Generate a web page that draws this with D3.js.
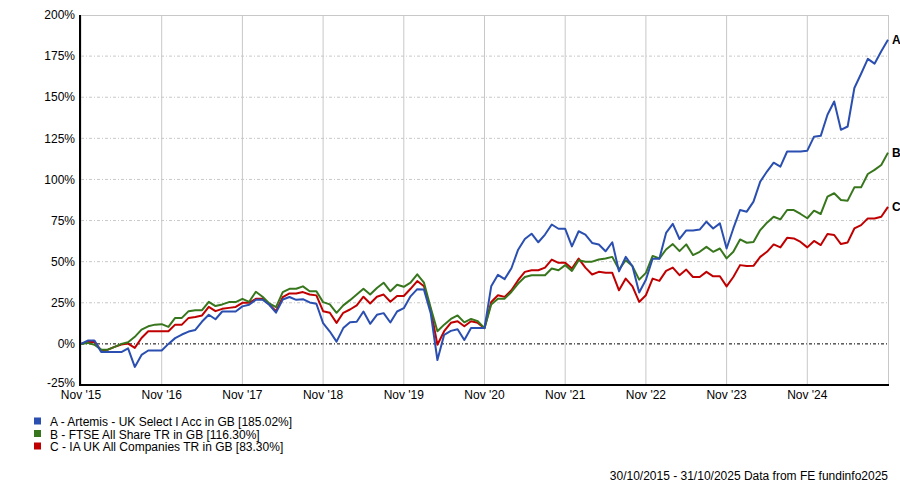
<!DOCTYPE html>
<html lang="en">
<head>
    <title>Artemis UK Select vs FTSE All Share vs IA UK All Companies</title>
    <meta charset="utf-8">
    <style>
        body { margin: 0; background: white; }
        svg { display: block; }
        .tick-label { font-family: "Liberation Sans", Arial, sans-serif; font-size: 12px; fill: #000; }
        .grid-h { stroke: #c8c8c8; stroke-width: 1; stroke-dasharray: 3,2,1,2; }
        .grid-v { stroke: #c8c8c8; stroke-width: 1; }
        .zero-line { stroke: #000; stroke-width: 1; stroke-dasharray: 3,2,1,2; }
        .axis-line { stroke: #000; stroke-width: 2; }
        .frame-line { stroke: #c8c8c8; stroke-width: 1; }
        .series { fill: none; stroke-width: 2; stroke-linejoin: round; }
        .end-label { font-family: "Liberation Sans", Arial, sans-serif; font-size: 12px; font-weight: bold; fill: #000; }
        .legend { font-family: "Liberation Sans", Arial, sans-serif; font-size: 12px; fill: #000; }
    </style>
    <script src="https://d3js.org/d3.v7.min.js"></script>
</head>
<body>
<svg id="chart" width="900" height="484"></svg>
<script>
    // monthly cumulative performance (%), end Oct 2015 .. end Oct 2025
    const seriesA = [0, 2, 2, -5, -5, -5, -5, -2.7, -14, -6.7, -4, -4, -4, 0, 3.5, 5.7, 7.5, 8.5, 13.6, 17.7,
        15, 19.7, 19.7, 19.7, 22.8, 23.8, 26.8, 26.8, 23.8, 19, 27,
        28.5, 26.8, 27.2, 25.2, 24.4, 12.6, 7.5, 1.4, 9.6, 13.2, 13.5, 19.7, 12.2, 17.7, 18.7, 13, 19.7, 21.7, 28.9, 33.3,
        33, 18.7, -9.8, 5.5, 7.9, 8.9, 2.4, 9.6, 9.6, 9.6,
        35, 42, 39.4, 46, 57.3, 63.8, 67, 61.8, 66.5, 72.6, 70, 70, 59.3, 68.5, 66.5, 61.4, 60.4, 56.3, 61.8, 44.1,
        52.9, 47.2, 31.3, 39, 51.8, 51.8, 67.5, 73, 63.8, 69,
        69, 69.5, 74.3, 70.2, 73.3, 58, 70.2, 81.4, 80.4, 86.5, 98.7, 104.8, 110.2, 107.8, 117, 117, 117, 117.5, 126, 126.5,
        139.3, 147.4, 130.2, 132.2, 155.6, 164.3, 173.3, 170.4, 178, 185.02];
    const seriesB = [0, 0.6, -0.5, -3.5, -3.5, -1.8, 0, 1, 4.3, 8.7, 10.7, 11.7, 12, 10.3, 15.8, 15.8, 19.9, 20.5, 20.5, 25.6,
        23, 24, 25.4, 25.4, 27.4, 25.6, 31.7, 28.7, 24.6, 22.3, 31.5,
        33.5, 33.5, 35, 32, 32, 25.4, 24, 18.9, 23.4, 26.6, 30, 33.5, 30, 34, 37.2, 32, 36, 34.7, 37.2, 42.3,
        37.2, 22, 7.7, 11.7, 15.2, 17.3, 13.1, 15.2, 13.8, 9.6,
        24, 27.5, 27.5, 31.6, 36.7, 40.7, 41.7, 41.7, 41.7, 45.8, 44.8, 47.9, 44.4, 50.9, 50, 50, 51.3, 51.9, 52.9, 45.2,
        50.9, 47.3, 39.1, 43.2, 53.5, 51.9, 57.4, 60.7, 56.4, 60.5,
        54, 56, 59, 56, 58, 52, 56, 63.5, 61.5, 62, 69.2, 73.7, 77.3, 75.7, 81.4, 81.4, 79, 76.4, 81, 79,
        89.5, 91.6, 87.5, 87.1, 95.2, 95.2, 103.3, 105.8, 108.8, 116.3];
    const seriesC = [0, 1.2, 1.2, -3.9, -3.5, -1.8, -0.4, 0.2, -2.4, 3.6, 7.7, 7.7, 7.7, 7.7, 11.7, 11.7, 15.8, 16.4, 17.3, 22.5,
        19.9, 21.3, 21.9, 22.5, 25, 25, 27.4, 27.4, 24, 19.9, 28.4,
        30.7, 30.7, 31.5, 30, 29.5, 19.9, 18.9, 12.8, 18.9, 20.9, 23.4, 28.7, 24.6, 28.7, 30, 25.6, 29.1, 29.1, 33.5, 38.2,
        35, 20.9, -0.5, 7.7, 12.8, 13.8, 10.7, 13.8, 12.8, 9.6,
        25.5, 29.6, 28.6, 32.6, 38.7, 43.8, 44.8, 44.8, 46.4, 51.3, 49.3, 49.3, 45.8, 51.9, 46.4, 42.2, 43.8, 43.2, 43.2, 32.6,
        39.7, 35, 25.5, 29.6, 39.7, 38.3, 44.4, 46.4, 41.8, 45.2,
        40.7, 40.7, 43.8, 41.1, 41.1, 35, 40.7, 47.9, 47.3, 47.5, 52.9, 56, 60.5, 58.7, 64.5, 64.1, 62, 58.7, 62.6, 60.1,
        66.8, 66.2, 60.7, 61.7, 70.2, 72.2, 76.3, 76.3, 77.3, 83.3];

    const seriesNames = ["A", "B", "C"];
    const seriesColors = ["#2a4fb0", "#38761d", "#c00000"];
    const legendLabels = [
        "A - Artemis - UK Select I Acc in GB [185.02%]",
        "B - FTSE All Share TR in GB [116.30%]",
        "C - IA UK All Companies TR in GB [83.30%]"
    ];
    const xTickLabels = ["Nov '15", "Nov '16", "Nov '17", "Nov '18", "Nov '19", "Nov '20", "Nov '21", "Nov '22", "Nov '23", "Nov '24"];
    const yTicks = [-25, 0, 25, 50, 75, 100, 125, 150, 175, 200];
    const footer = "30/10/2015 - 31/10/2025 Data from FE fundinfo2025";

    const plot = { left: 81, right: 888, top: 15, bottom: 385 };

    const svg = d3.select("#chart");

    const x = d3.scaleLinear().domain([0, 120]).range([plot.left, plot.right]);
    const y = d3.scaleLinear().domain([-25, 200]).range([plot.bottom, plot.top]);

    // horizontal grid
    yTicks.forEach(v => {
        if (v === -25 || v === 200) return;
        svg.append("line")
            .attr("x1", plot.left).attr("x2", plot.right)
            .attr("y1", y(v)).attr("y2", y(v))
            .attr("class", v === 0 ? "zero-line" : "grid-h");
    });

    // vertical grid + month labels
    xTickLabels.forEach((label, i) => {
        const xp = x(i * 12);
        svg.append("line")
            .attr("x1", xp).attr("x2", xp)
            .attr("y1", plot.top).attr("y2", plot.bottom)
            .attr("class", "grid-v");
        svg.append("text")
            .attr("x", xp)
            .attr("y", plot.bottom + 14)
            .attr("class", "tick-label")
            .attr("text-anchor", "middle")
            .text(label);
    });

    // frame
    svg.append("line").attr("class", "frame-line")
        .attr("x1", plot.left).attr("x2", plot.right).attr("y1", plot.top + 0.5).attr("y2", plot.top + 0.5);
    svg.append("line").attr("class", "frame-line")
        .attr("x1", plot.right + 0.5).attr("x2", plot.right + 0.5).attr("y1", plot.top).attr("y2", plot.bottom);

    // y labels
    yTicks.forEach(v => {
        svg.append("text")
            .attr("x", 75)
            .attr("y", y(v))
            .attr("dy", v === -25 ? "0.2em" : "0.35em")
            .attr("class", "tick-label")
            .attr("text-anchor", "end")
            .text(v + "%");
    });

    // lines, C first so A sits on top
    const line = d3.line()
        .x((d, i) => x(i))
        .y(d => y(d));

    const allSeries = [seriesA, seriesB, seriesC];
    [2, 1, 0].forEach(k => {
        svg.append("path")
            .datum(allSeries[k])
            .attr("class", "series")
            .attr("stroke", seriesColors[k])
            .attr("d", line);

        const last = allSeries[k][allSeries[k].length - 1];
        svg.append("text")
            .attr("x", plot.right + 4)
            .attr("y", y(last))
            .attr("dy", "0.35em")
            .attr("class", "end-label")
            .text(seriesNames[k]);
    });

    // axes
    svg.append("line").attr("class", "axis-line")
        .attr("x1", plot.left - 1).attr("x2", plot.left - 1).attr("y1", plot.top).attr("y2", plot.bottom + 1);
    svg.append("line").attr("class", "axis-line")
        .attr("x1", plot.left - 1).attr("x2", plot.right + 1).attr("y1", plot.bottom).attr("y2", plot.bottom);

    // legend
    legendLabels.forEach((label, i) => {
        svg.append("rect")
            .attr("x", 34)
            .attr("y", 417.5 + i * 12.5)
            .attr("width", 7)
            .attr("height", 7)
            .attr("fill", seriesColors[i]);
        svg.append("text")
            .attr("x", 50)
            .attr("y", 426 + i * 12.5)
            .attr("class", "legend")
            .text(label);
    });

    svg.append("text")
        .attr("x", 888)
        .attr("y", 480)
        .attr("class", "legend")
        .attr("text-anchor", "end")
        .text(footer);
</script>
</body>
</html>
